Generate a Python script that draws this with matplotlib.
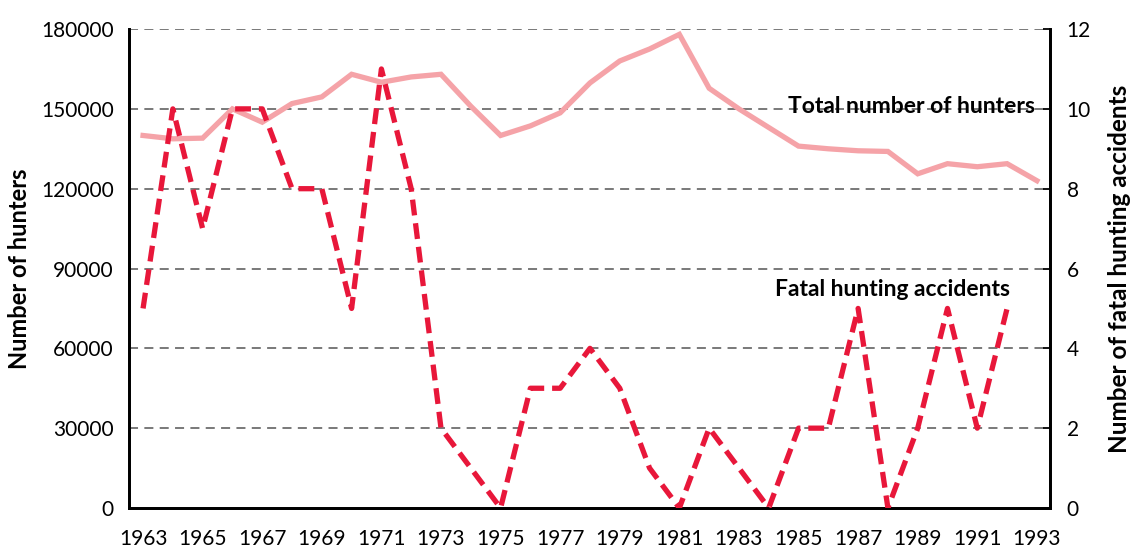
import matplotlib
matplotlib.use('Agg')
import matplotlib.pyplot as plt

years = list(range(1963, 1994))
hunters = [140000, 138750, 139000, 150000, 145000, 152000, 154500, 163000, 160000, 162000,
           163000, 151000, 140000, 143600, 148500, 159750, 168000, 172500, 178000, 157750,
           150000, 143000, 136000, 135000, 134250, 134000, 125600, 129400, 128250, 129400,
           123000]
acc_years = list(range(1963, 1993))
accidents = [5, 10, 7, 10, 10, 8, 8, 5, 11, 8, 2, 1, 0, 3, 3, 4, 3, 1, 0, 2,
             1, 0, 2, 2, 5, 0, 2, 5, 2, 5]

plt.rcParams['font.family'] = ['Lato', 'DejaVu Sans']

fig = plt.figure(figsize=(11.35, 5.48), dpi=100)
ax = fig.add_axes([0.1137, 0.073, 0.8114, 0.874])
ax2 = ax.twinx()

# grid
for v in range(30000, 180001, 30000):
    ax.axhline(v, color='#6e6e6e', lw=1.3, ls=(0, (5, 3.5)), zorder=1)

ax.plot(years, hunters, color='#f5a3a8', lw=3.8, zorder=3, solid_joinstyle='miter')
ax2.plot(acc_years, accidents, color='#e8173a', lw=3.8, ls=(0, (3.0, 1.5)), zorder=3)

ax.set_xlim(1962.53, 1993.44)
ax.set_ylim(0, 180000)
ax2.set_ylim(0, 12)
ax.set_xticks(range(1963, 1994, 2))
ax.set_yticks(range(0, 180001, 30000))
ax2.set_yticks(range(0, 13, 2))

ax.tick_params(axis='x', length=0, pad=15, labelsize=15)
ax.tick_params(axis='y', length=0, pad=11, labelsize=15)
ax2.tick_params(axis='y', direction='in', length=5, width=1.3, pad=12, labelsize=15)

for a in (ax, ax2):
    a.spines['top'].set_visible(False)
    for s in ('left', 'right', 'bottom'):
        a.spines[s].set_linewidth(2)

ax.set_ylabel('Number of hunters', fontsize=17, fontweight='bold', labelpad=7)
ax2.set_ylabel('Number of fatal hunting accidents', fontsize=17.5, fontweight='bold', labelpad=12)

ax.text(1992.95, 151000, 'Total number of hunters', ha='right', va='center',
        fontsize=16.5, fontweight='bold')
ax.text(1992.1, 82000, 'Fatal hunting accidents', ha='right', va='center',
        fontsize=16.5, fontweight='bold')

fig.savefig('out.png', dpi=100)
